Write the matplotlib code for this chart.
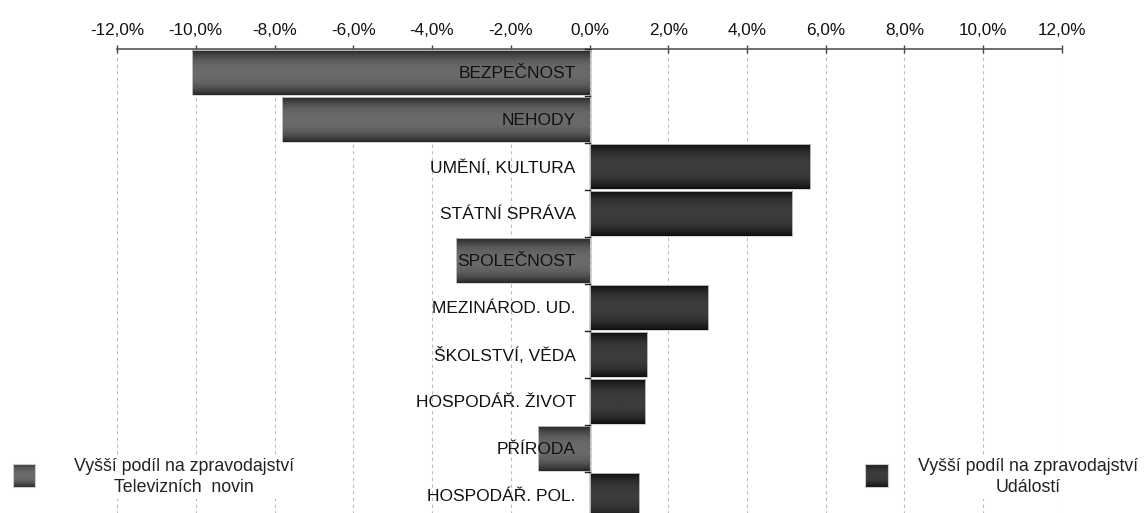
import numpy as np
import matplotlib
matplotlib.use('Agg')
from matplotlib import pyplot as plt
from matplotlib.colors import LinearSegmentedColormap
from matplotlib.ticker import FuncFormatter

plt.rcParams['font.family'] = ['Liberation Sans', 'DejaVu Sans']

# data
categories = ['BEZPEČNOST', 'NEHODY', 'UMĚNÍ, KULTURA', 'STÁTNÍ SPRÁVA', 'SPOLEČNOST',
              'MEZINÁROD. UD.', 'ŠKOLSTVÍ, VĚDA', 'HOSPODÁŘ. ŽIVOT', 'PŘÍRODA', 'HOSPODÁŘ. POL.']
values = [-10.1, -7.8, 5.6, 5.15, -3.4, 3.0, 1.45, 1.42, -1.3, 1.25]
xticks = [-12, -10, -8, -6, -4, -2, 0, 2, 4, 6, 8, 10, 12]
legend_left = 'Vyšší podíl na zpravodajství\nTelevizních  novin'
legend_right = 'Vyšší podíl na zpravodajství\nUdálostí'

cmap_neg = LinearSegmentedColormap.from_list('neg', ['#262626', '#6a6a6a'])
cmap_pos = LinearSegmentedColormap.from_list('pos', ['#0e0e0e', '#3c3c3c'])

# vertical shading profile: dark edges, lighter middle
t = np.linspace(-1, 1, 64)
prof = (1 - np.abs(t) ** 2.5).reshape(-1, 1)

fig = plt.figure(figsize=(11.44, 5.13), dpi=100)
ax = fig.add_axes([0.1023, -0.0117, 0.826, 0.9162])

h = 0.95
for i, v in enumerate(values):
    cm = cmap_neg if v < 0 else cmap_pos
    x0, x1 = min(0, v), max(0, v)
    ax.imshow(prof, extent=(x0, x1, i + h / 2, i - h / 2), aspect='auto',
              cmap=cm, vmin=0, vmax=1, zorder=2, interpolation='bilinear')
    ax.add_patch(plt.Rectangle((x0, i - h / 2), x1 - x0, h, fill=False,
                               edgecolor='#cfcfcf', linewidth=0.6, zorder=3))
    ax.text(-0.35, i + 0.03, categories[i], ha='right', va='center',
            fontsize=12.5, color='#111111', zorder=4)

ax.set_xlim(-12, 12)
ax.set_ylim(len(values) - 0.5, -0.5)

ax.xaxis.tick_top()
ax.set_xticks(xticks)
ax.xaxis.set_major_formatter(FuncFormatter(lambda x, p: ('%.1f%%' % x).replace('.', ',')))
ax.tick_params(axis='x', direction='inout', length=6, width=1, colors='#444444',
               labelcolor='#111111', labelsize=12.3, pad=5)
ax.set_yticks(np.arange(len(values) + 1) - 0.5)
ax.set_yticklabels([])
ax.tick_params(axis='y', length=0)
for yy in np.arange(len(values) + 1) - 0.5:
    ax.plot([-0.12, 0], [yy, yy], color='#222222', linewidth=1, zorder=5, clip_on=False)

ax.grid(axis='x', linestyle=(0, (3, 3)), color='#bbbbbb', linewidth=0.8, zorder=0)
for s in ['left', 'right', 'bottom']:
    ax.spines[s].set_visible(False)
ax.spines['top'].set_color('#555555')
ax.spines['top'].set_linewidth(1.2)
ax.axvline(0, color='#222222', linewidth=1, zorder=1)

# legends
ax_l = fig.add_axes([0.011, 0.051, 0.02, 0.045])
ax_l.imshow(prof, aspect='auto', cmap=cmap_neg, vmin=0, vmax=1, extent=(0, 1, 0, 1))
ax_l.set_xticks([]); ax_l.set_yticks([])
for s in ax_l.spines.values():
    s.set_color('#cccccc')
ax_r = fig.add_axes([0.756, 0.051, 0.02, 0.045])
ax_r.imshow(prof, aspect='auto', cmap=cmap_pos, vmin=0, vmax=1, extent=(0, 1, 0, 1))
ax_r.set_xticks([]); ax_r.set_yticks([])
for s in ax_r.spines.values():
    s.set_color('#cccccc')

fig.text(0.161, 0.070, legend_left, ha='center', va='center', fontsize=12.8,
         color='#222222', linespacing=1.25,
         bbox=dict(facecolor='white', edgecolor='none', pad=2))
fig.text(0.899, 0.070, legend_right, ha='center', va='center', fontsize=12.8,
         color='#222222', linespacing=1.25,
         bbox=dict(facecolor='white', edgecolor='none', pad=2))

fig.savefig('out.png', dpi=100)
